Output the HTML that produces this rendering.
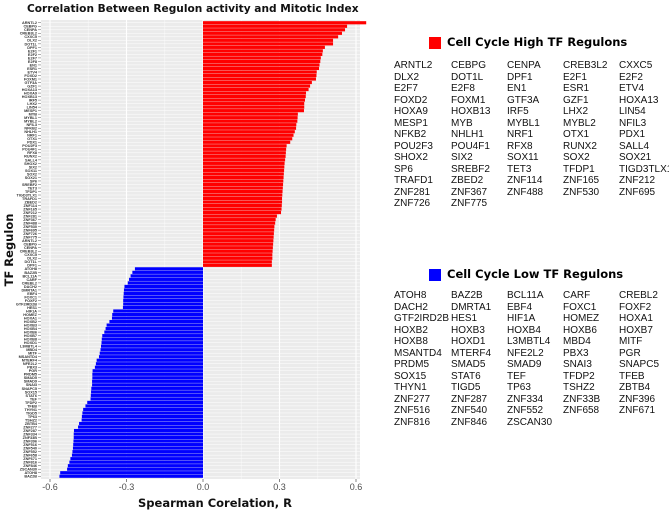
<!DOCTYPE html>
<html><head><meta charset="utf-8"><style>
body{margin:0;background:#fff;width:669px;height:512px;overflow:hidden;font-family:"Liberation Sans",sans-serif}
svg{position:absolute;left:0;top:0}
.lst{position:absolute;font-size:10px;color:#111;line-height:11.4px}
.lst span{position:absolute;white-space:nowrap}
.hd{position:absolute;font-weight:bold;font-size:11.5px;font-family:"DejaVu Sans","Liberation Sans",sans-serif}
.sq{position:absolute;width:12px;height:12px}
</style></head><body>
<svg id="chart" width="669" height="512"></svg>
<div id="legends"></div>
<script>
const redValues=[0.64,0.565,0.557,0.545,0.53,0.51,0.51,0.478,0.47,0.468,0.462,0.46,0.457,0.455,0.446,0.445,0.443,0.427,0.42,0.414,0.404,0.403,0.40,0.397,0.397,0.396,0.372,0.371,0.37,0.366,0.365,0.36,0.355,0.35,0.342,0.328,0.326,0.325,0.324,0.322,0.32,0.319,0.318,0.317,0.316,0.315,0.314,0.313,0.312,0.311,0.31,0.31,0.309,0.308,0.306,0.29,0.285,0.283,0.28,0.279,0.278,0.277,0.276,0.275,0.274,0.273,0.272,0.272,0.27,0.27];
const blueValues=[-0.267,-0.277,-0.284,-0.29,-0.295,-0.308,-0.31,-0.311,-0.312,-0.313,-0.313,-0.314,-0.352,-0.356,-0.357,-0.367,-0.378,-0.382,-0.387,-0.395,-0.397,-0.398,-0.40,-0.402,-0.405,-0.408,-0.417,-0.42,-0.424,-0.433,-0.434,-0.434,-0.435,-0.435,-0.438,-0.439,-0.44,-0.441,-0.454,-0.461,-0.47,-0.473,-0.475,-0.476,-0.486,-0.49,-0.506,-0.507,-0.507,-0.508,-0.509,-0.51,-0.512,-0.514,-0.52,-0.524,-0.53,-0.533,-0.56,-0.563];
const highTF=["ARNTL2","CEBPG","CENPA","CREB3L2","CXXC5","DLX2","DOT1L","DPF1","E2F1","E2F2","E2F7","E2F8","EN1","ESR1","ETV4","FOXD2","FOXM1","GTF3A","GZF1","HOXA13","HOXA9","HOXB13","IRF5","LHX2","LIN54","MESP1","MYB","MYBL1","MYBL2","NFIL3","NFKB2","NHLH1","NRF1","OTX1","PDX1","POU2F3","POU4F1","RFX8","RUNX2","SALL4","SHOX2","SIX2","SOX11","SOX2","SOX21","SP6","SREBF2","TET3","TFDP1","TIGD3TLX1","TRAFD1","ZBED2","ZNF114","ZNF165","ZNF212","ZNF281","ZNF367","ZNF488","ZNF530","ZNF695","ZNF726","ZNF775"];
const lowTF=["ATOH8","BAZ2B","BCL11A","CARF","CREBL2","DACH2","DMRTA1","EBF4","FOXC1","FOXF2","GTF2IRD2B","HES1","HIF1A","HOMEZ","HOXA1","HOXB2","HOXB3","HOXB4","HOXB6","HOXB7","HOXB8","HOXD1","L3MBTL4","MBD4","MITF","MSANTD4","MTERF4","NFE2L2","PBX3","PGR","PRDM5","SMAD5","SMAD9","SNAI3","SNAPC5","SOX15","STAT6","TEF","TFDP2","TFEB","THYN1","TIGD5","TP63","TSHZ2","ZBTB4","ZNF277","ZNF287","ZNF334","ZNF33B","ZNF396","ZNF516","ZNF540","ZNF552","ZNF658","ZNF671","ZNF816","ZNF846","ZSCAN30"];
const xTicks=[-0.6,-0.3,0.0,0.3,0.6];
const xTickLabels=["-0.6","-0.3","0.0","0.3","0.6"];

const NS="http://www.w3.org/2000/svg";
const svg=document.getElementById('chart');
const PL=41,PR=360,PT=20,PB=479;
const X0=203,SCALE=255;
function xs(v){return X0+v*SCALE;}
const values=redValues.concat(blueValues);
const n=values.length;
const pitch=(PB-PT-2)/n;
function ys(i){return PT+1+i*pitch;}
function el(tag,attrs,parent){const e=document.createElementNS(NS,tag);for(const k in attrs)e.setAttribute(k,attrs[k]);(parent||svg).appendChild(e);return e;}

const panel=el('rect',{x:PL,y:PT,width:PR-PL,height:PB-PT,fill:'#ebebeb'});


[-0.45,-0.15,0.15,0.45].forEach(v=>{el('line',{x1:xs(v),x2:xs(v),y1:PT,y2:PB,stroke:'#f7f7f7','stroke-width':0.6});});
xTicks.forEach(v=>{const g=el('line',{x1:xs(v),x2:xs(v),y1:PT,y2:PB,stroke:'#fff','stroke-width':1.1});

});
for(let i=0;i<n;i++){el('line',{x1:PL,x2:PR,y1:ys(i)+pitch/2,y2:ys(i)+pitch/2,stroke:'#fff','stroke-width':0.5});}
const labels=highTF.concat(highTF).slice(0,redValues.length).concat(lowTF.concat(lowTF).slice(0,blueValues.length));
for(let i=0;i<n;i++){
  const v=values[i];
  const b=el('rect',{x:Math.min(xs(0),xs(v)),y:ys(i)+pitch*0.05,width:Math.abs(xs(v)-xs(0)),height:pitch*0.9,fill:v>0?'#ff0000':'#0000ff'});
  
  
  const t=el('text',{x:37,y:ys(i)+pitch/2+1.4,'font-size':3.8,'text-anchor':'end','font-weight':'bold',fill:'#333'});
  t.textContent=labels[i];
  
  
  el('line',{x1:38,x2:41,y1:ys(i)+pitch/2,y2:ys(i)+pitch/2,stroke:'#333','stroke-width':0.4});
}
xTicks.forEach((v,i)=>{
  el('line',{x1:xs(v),x2:xs(v),y1:PB,y2:PB+3,stroke:'#333','stroke-width':0.6});
  const t=el('text',{x:xs(v),y:PB+11,'font-size':9,'text-anchor':'middle',fill:'#4d4d4d'});
  t.textContent=xTickLabels[i];
  
  
});
let t=el('text',{x:27,y:12,'font-size':10.6,'font-weight':'bold','font-family':'DejaVu Sans,Liberation Sans,sans-serif',fill:'#111'});
t.textContent='Correlation Between Regulon activity and Mitotic Index';


t=el('text',{x:215,y:507,'font-size':11.5,'font-weight':'bold','font-family':'DejaVu Sans,Liberation Sans,sans-serif','text-anchor':'middle',fill:'#111'});
t.textContent='Spearman Corelation, R';


t=el('text',{x:0,y:0,'font-size':11.5,'font-weight':'bold','font-family':'DejaVu Sans,Liberation Sans,sans-serif','text-anchor':'middle',fill:'#111',transform:'translate(13,250) rotate(-90)'});
t.textContent='TF Regulon';



const leg=document.getElementById('legends');
function block(title,color,list,top,listTop,name){
  const sq=document.createElement('div');sq.className='sq';sq.style.left='429px';sq.style.top=(top-6)+'px';sq.style.background=color;
  
  
  leg.appendChild(sq);
  const h=document.createElement('div');h.className='hd';h.style.left='447px';h.style.top=(top-8)+'px';h.textContent=title;
  
  
  leg.appendChild(h);
  const cols=[394,451,507,563,619];
  const d=document.createElement('div');d.className='lst';
  
  
  list.forEach((s,i)=>{const sp=document.createElement('span');sp.textContent=s;sp.style.left=cols[i%5]+'px';sp.style.top=(listTop+Math.floor(i/5)*11.5-6)+'px';d.appendChild(sp);});
  leg.appendChild(d);
}
block('Cell Cycle High TF Regulons','#ff0000',highTF,43,66,'high');
block('Cell Cycle Low TF Regulons','#0000ff',lowTF,275,296,'low');
</script>
</body></html>
